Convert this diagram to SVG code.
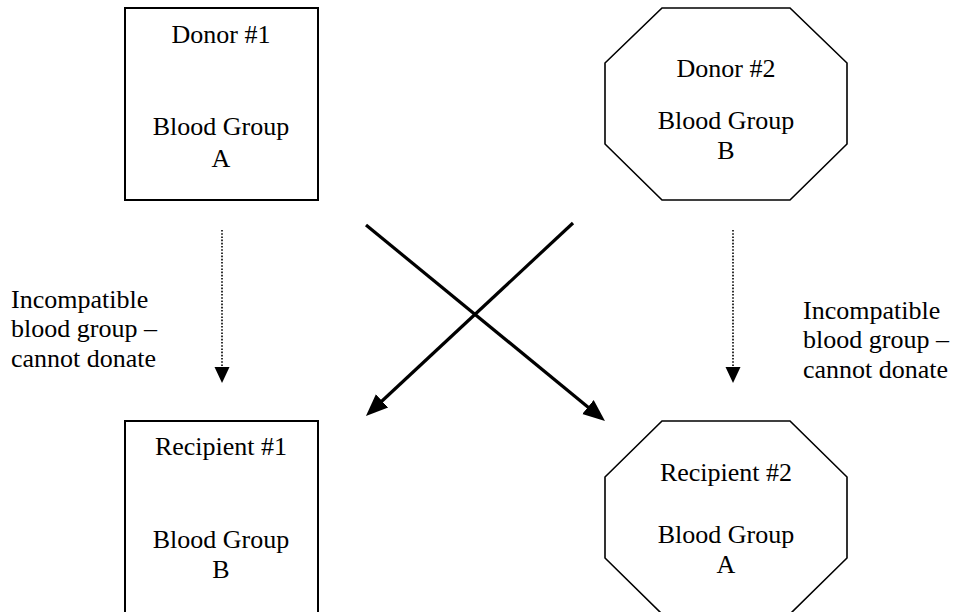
<svg xmlns="http://www.w3.org/2000/svg" width="957" height="612" viewBox="0 0 957 612">
<style>
.shape{fill:#fff;stroke:#000;stroke-width:2}
.oct{fill:#fff;stroke:#000;stroke-width:1.6}
text{font-family:"Liberation Serif","Times New Roman",serif;font-size:26px;fill:#000}
.c{text-anchor:middle}
.dot{stroke:#000;stroke-width:1.6;stroke-dasharray:1.6,1.6;fill:none}
.bold{stroke:#000;stroke-width:3.2;fill:none}
</style>
<defs>
<marker id="tri" markerUnits="userSpaceOnUse" markerWidth="16" markerHeight="16" viewBox="0 -8 16 16" refX="0" refY="0" orient="auto">
<path d="M0,-7.5 L16,0 L0,7.5 z" fill="#000"/>
</marker>
<marker id="big" markerUnits="userSpaceOnUse" markerWidth="23" markerHeight="20" viewBox="0 -10 23 20" refX="14" refY="0" orient="auto">
<path d="M0,-9 L22,0 L0,9 z" fill="#000"/>
</marker>
</defs>
<g id="donor1">
<rect class="shape" x="125" y="8" width="193" height="192"/>
<text class="c" x="221" y="43">Donor #1</text>
<text class="c" x="221" y="135">Blood Group</text>
<text class="c" x="221" y="167">A</text>
</g>
<g id="donor2">
<polygon class="oct" points="662,8 790,8 847,63 847,144 790,200 662,200 605,144 605,63"/>
<text class="c" x="726" y="77">Donor #2</text>
<text class="c" x="726" y="129">Blood Group</text>
<text class="c" x="726" y="159">B</text>
</g>
<g id="recipient1">
<rect class="shape" x="125" y="421" width="193" height="200"/>
<text class="c" x="221" y="455">Recipient #1</text>
<text class="c" x="221" y="548">Blood Group</text>
<text class="c" x="221" y="578">B</text>
</g>
<g id="recipient2">
<polygon class="oct" points="662,421 790,421 847,477 847,558 790,614 662,614 605,558 605,477"/>
<text class="c" x="726" y="481">Recipient #2</text>
<text class="c" x="726" y="543">Blood Group</text>
<text class="c" x="726" y="573">A</text>
</g>
<g id="label-left">
<text x="11" y="308">Incompatible</text>
<text x="11" y="337">blood group –</text>
<text x="11" y="367">cannot donate</text>
</g>
<g id="label-right">
<text x="803" y="319">Incompatible</text>
<text x="803" y="348">blood group –</text>
<text x="803" y="378">cannot donate</text>
</g>
<g id="connectors">
<line class="dot" x1="222" y1="230" x2="222" y2="367" marker-end="url(#tri)"/>
<line class="dot" x1="733" y1="230" x2="733" y2="367" marker-end="url(#tri)"/>
<line class="bold" x1="366" y1="225" x2="598.8" y2="415.9" marker-end="url(#big)"/>
<line class="bold" x1="573" y1="223" x2="371.8" y2="410.5" marker-end="url(#big)"/>
</g>
</svg>
